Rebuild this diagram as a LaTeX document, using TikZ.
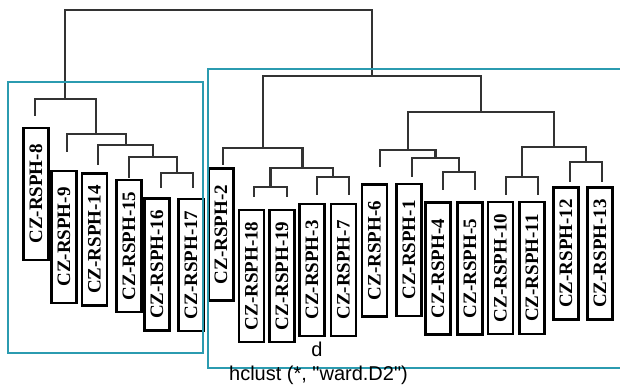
\documentclass[tikz,border=0pt]{standalone}
\usepackage{fontspec}
\newfontfamily\labfont{Liberation Serif}
\newfontfamily\capfont{Liberation Sans}
\definecolor{frameblue}{HTML}{2B9BB0}
\definecolor{linkgray}{HTML}{333333}
\newcommand{\mergepair}[3]{\draw[link] (#1) -- (#1 |- #3) -- (#2 |- #3) -- (#2);}
\begin{document}
\begin{tikzpicture}[x=1pt,y=-1pt,
  leaf/.style={draw, line width=2.1pt, rotate=90, minimum width=132pt,
    minimum height=25pt, inner sep=0pt,
    font=\labfont\bfseries\fontsize{19}{19}\selectfont},
  link/.style={draw=linkgray, line width=2.3pt},
  frame/.style={draw=frameblue, line width=1.8pt},
  caption/.style={font=\capfont\fontsize{20}{20}\selectfont, inner sep=0pt}]
\useasboundingbox (0,0) rectangle (620,387);

% leaf labels
\node[leaf] (l8)  at (36,194)    {CZ-RSPH-8};
\node[leaf] (l9)  at (64,237)    {CZ-RSPH-9};
\node[leaf] (l14) at (94.5,239.5){CZ-RSPH-14};
\node[leaf] (l15) at (129,246)   {CZ-RSPH-15};
\node[leaf] (l16) at (157,264.5) {CZ-RSPH-16};
\node[leaf] (l17) at (191,265)   {CZ-RSPH-17};
\node[leaf] (l2)  at (221,234.5) {CZ-RSPH-2};
\node[leaf] (l18) at (251.5,276) {CZ-RSPH-18};
\node[leaf] (l19) at (282,276)   {CZ-RSPH-19};
\node[leaf] (l3)  at (312,270)   {CZ-RSPH-3};
\node[leaf] (l7)  at (343.5,270) {CZ-RSPH-7};
\node[leaf] (l6)  at (374.5,250.5){CZ-RSPH-6};
\node[leaf] (l1)  at (409,250)   {CZ-RSPH-1};
\node[leaf] (l4)  at (438,268.5) {CZ-RSPH-4};
\node[leaf] (l5)  at (470,268.5) {CZ-RSPH-5};
\node[leaf] (l10) at (500.5,268) {CZ-RSPH-10};
\node[leaf] (l11) at (532,268)   {CZ-RSPH-11};
\node[leaf] (l12) at (566,253.5) {CZ-RSPH-12};
\node[leaf] (l13) at (600,253.5) {CZ-RSPH-13};

% lower ends of the leaf branches
\coordinate (t8)  at (35,116);
\coordinate (t9)  at (67,152);
\coordinate (t14) at (98,165);
\coordinate (t15) at (129,178);
\coordinate (t16) at (161,188);
\coordinate (t17) at (193,188);
\coordinate (t2)  at (223,165);
\coordinate (t18) at (254,197);
\coordinate (t19) at (287,197);
\coordinate (t3)  at (317,195);
\coordinate (t7)  at (349,195);
\coordinate (t6)  at (380,167);
\coordinate (t1)  at (412,177);
\coordinate (t4)  at (443,190);
\coordinate (t5)  at (475,190);
\coordinate (t10) at (506,195);
\coordinate (t11) at (538,195);
\coordinate (t12) at (570,182);
\coordinate (t13) at (602,182);

% merge points (x of the upward branch, merge height)
\coordinate (a1617) at (177,173);
\coordinate (a15)   at (153,157);
\coordinate (a14)   at (126,145);
\coordinate (a9)    at (96,134);
\coordinate (aL)    at (65,99);
\coordinate (b1819) at (270.5,187);
\coordinate (b37)   at (333,177);
\coordinate (b183)  at (302.5,168);
\coordinate (b2)    at (263,148);
\coordinate (b45)   at (459,172);
\coordinate (b1)    at (435.5,158);
\coordinate (b6)    at (408,150);
\coordinate (b1011) at (522,177);
\coordinate (b1213) at (586,162);
\coordinate (b1012) at (554,147);
\coordinate (b610)  at (481,112);
\coordinate (bR)    at (372,76);
\coordinate (root)  at (218.5,10);

% dendrogram
\mergepair{t16}{t17}{a1617}
\mergepair{t15}{a1617}{a15}
\mergepair{t14}{a15}{a14}
\mergepair{t9}{a14}{a9}
\mergepair{t8}{a9}{aL}
\mergepair{t18}{t19}{b1819}
\mergepair{t3}{t7}{b37}
\mergepair{b1819}{b37}{b183}
\mergepair{t2}{b183}{b2}
\mergepair{t4}{t5}{b45}
\mergepair{t1}{b45}{b1}
\mergepair{t6}{b1}{b6}
\mergepair{t10}{t11}{b1011}
\mergepair{t12}{t13}{b1213}
\mergepair{b1011}{b1213}{b1012}
\mergepair{b6}{b1012}{b610}
\mergepair{b2}{b610}{bR}
\mergepair{aL}{bR}{root}

% cluster frames
\draw[frame] (8,82) rectangle (203,353);
\draw[frame] (622,69) -- (208,69) -- (208,368) -- (622,368);

% axis captions
\node[caption] (dlab) at (317,349) {d};
\node[caption] (hc) at (318.5,375) {hclust (*, "ward.D2")};
\end{tikzpicture}
\end{document}
